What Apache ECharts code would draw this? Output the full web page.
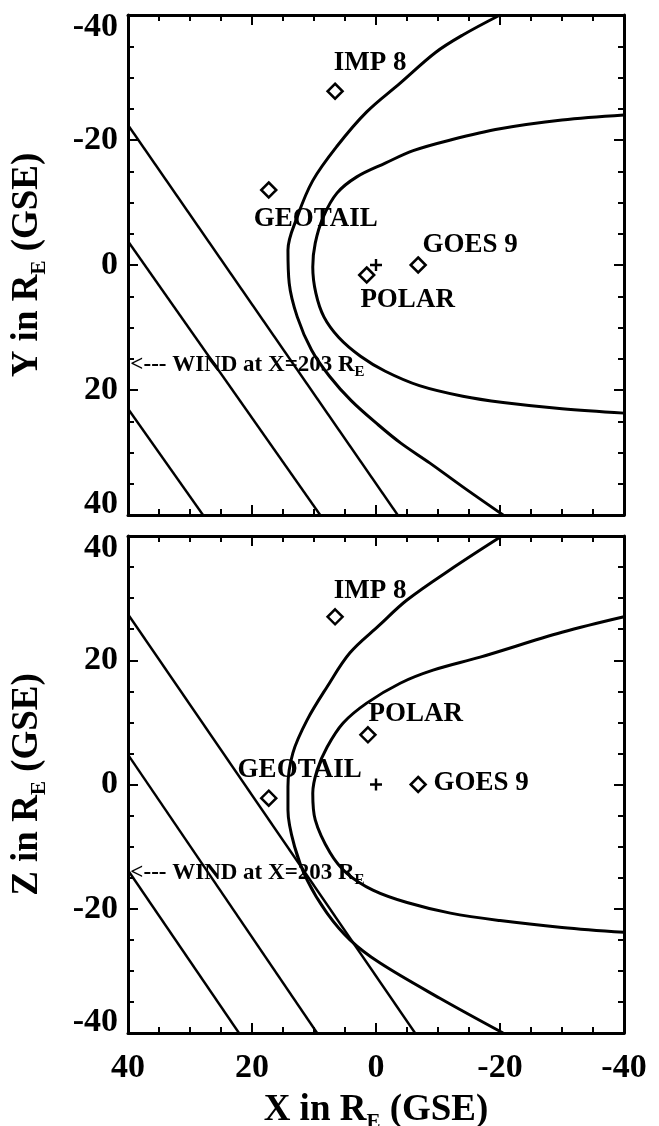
<!DOCTYPE html>
<html><head><meta charset="utf-8">
<script src="https://cdn.jsdelivr.net/npm/echarts@6/dist/echarts.min.js"></script>
<style>html,body{margin:0;padding:0;background:#fff}#c{width:659px;height:1126px}</style>
</head><body><div id="c"></div>
<script>
// ---------- data ----------
const tickValues = [-40, -20, 0, 20, 40];

// top panel (X, Y)
const topBowShock = [[-20.0,-40],[-14.0,-36.8],[-9.6,-34.0],[-3.9,-29.1],[1.5,-24.5],[6.3,-19.0],[10.2,-13.5],[12.7,-7.7],[14.2,-2.4],[14.0,2.9],[12.7,8.3],[10.4,13.6],[7.5,17.8],[4.0,21.7],[-0.4,25.6],[-4.0,28.5],[-8.7,31.7],[-14.0,35.5],[-20.5,40]];
const topMagnetopause = [[-40,-24.0],[-30,-23.2],[-20,-21.8],[-12,-20.0],[-6,-18.3],[-1.5,-16.3],[3.1,-14.1],[6.3,-11.5],[8.5,-7.7],[9.8,-3.5],[10.2,0.3],[9.7,4.5],[8.4,8.3],[6.0,11.6],[2.5,14.6],[-1.5,17.0],[-7.0,19.3],[-14.0,21.0],[-20.5,22.0],[-30,23.0],[-40,23.7]];
const topFieldLines = [[[40,-22.4],[-3.5,40]], [[40,-3.8],[9.0,40]], [[40,23.0],[27.9,40]]];
const topSpacecraft = [[6.6,-27.8],[17.3,-12.0],[1.5,1.6],[-6.8,0.0]];
const topLabelNames = ['IMP 8','GEOTAIL','GOES 9','POLAR'];
const topLabelAnchors = [[6.9,-32.3],[19.8,-7.4],[-7.4,-3.2],[2.6,5.6]];
const topWindAnchor = [39.7,16.0];

// bottom panel (X, Z)
const botBowShock = [[-20.3,40],[-12.6,35.0],[-5.0,29.7],[-0.5,25.6],[4.2,21.2],[7.9,15.7],[11.1,10.4],[13.4,5.1],[14.2,-0.4],[14.2,-4.1],[13.1,-10.1],[11.1,-15.4],[7.9,-20.7],[4.2,-25.0],[-0.6,-28.7],[-10.3,-34.4],[-20.5,-40]];
const botMagnetopause = [[-40,27.0],[-30,24.5],[-16.8,20.5],[-9.2,18.4],[-3.9,16.3],[1.5,13.1],[5.3,9.9],[7.9,6.0],[9.5,2.3],[10.2,-1.4],[9.8,-5.7],[7.4,-11.0],[4.7,-14.3],[0.5,-17.0],[-5.0,-19.0],[-12.0,-20.7],[-20.0,-21.9],[-30.0,-23.0],[-40,-23.8]];
const botFieldLines = [[[40,27.4],[-6.3,-40]], [[40,4.8],[9.5,-40]], [[40,-13.8],[22.1,-40]]];
const botSpacecraft = [[6.6,27.0],[1.3,8.0],[17.3,-2.2],[-6.8,0.0]];
const botLabelNames = ['IMP 8','POLAR','GEOTAIL','GOES 9'];
const botLabelAnchors = [[6.9,31.1],[1.3,11.3],[22.4,2.3],[-9.2,0.2]];
const botWindAnchor = [39.7,-14.3];

const earth = [[0,0]];
const windText = '<--- WIND at X=203 R';

// ---------- styling ----------
const FONT = 'Liberation Serif';
const BLACK = '#000';
const tickFont = {fontFamily: FONT, fontWeight: 'bold', fontSize: 34, color: BLACK};

function axisBase(gridIndex, position, inverse) {
  return {
    type: 'value', gridIndex, position, min: -40, max: 40, interval: 20, inverse,
    axisLine: {show: true, onZero: false, lineStyle: {color: BLACK, width: 3}},
    axisTick: {show: true, inside: true, length: 10, lineStyle: {color: BLACK, width: 2}},
    minorTick: {show: true, splitNumber: 4, length: 6, lineStyle: {color: BLACK, width: 2}},
    splitLine: {show: false}, minorSplitLine: {show: false},
    axisLabel: {show: false},
    axisPointer: {show: false}
  };
}
function yLabels(topVal, botVal) {
  return {
    show: true, margin: 10,
    formatter: v => (v === topVal ? '{t|' : v === botVal ? '{b|' : '{n|') + v + '}',
    rich: {
      t: Object.assign({padding: [24,0,0,0]}, tickFont),
      b: Object.assign({padding: [0,0,22,0]}, tickFont),
      n: Object.assign({}, tickFont)
    }
  };
}
const titleRich = {
  m: {fontFamily: FONT, fontWeight: 'bold', fontSize: 37, color: BLACK},
  s: {fontFamily: FONT, fontWeight: 'bold', fontSize: 21, color: BLACK, padding: [24,0,0,0]}
};

const xAxes = [
  axisBase(0, 'bottom', true),
  axisBase(0, 'top', true),
  Object.assign(axisBase(1, 'bottom', true), {
    axisLabel: Object.assign({show: true, margin: 18, formatter: v => String(v)}, tickFont),
    name: '{m|X in R}{s|E}{m| (GSE)}', nameLocation: 'middle', nameGap: 55,
    nameTextStyle: {rich: titleRich}
  }),
  axisBase(1, 'top', true)
];
const yAxes = [
  Object.assign(axisBase(0, 'left', true), {
    axisLabel: yLabels(-40, 40),
    name: '{m|Y in R}{s|E}{m| (GSE)}', nameLocation: 'middle', nameGap: 78,
    nameTextStyle: {rich: titleRich}
  }),
  axisBase(0, 'right', true),
  Object.assign(axisBase(1, 'left', false), {
    axisLabel: yLabels(40, -40),
    name: '{m|Z in R}{s|E}{m| (GSE)}', nameLocation: 'middle', nameGap: 78,
    nameTextStyle: {rich: titleRich}
  }),
  axisBase(1, 'right', false)
];

function curve(data, xi, yi, w) {
  return {type: 'line', xAxisIndex: xi, yAxisIndex: yi, data, showSymbol: false, smooth: 0.35,
    lineStyle: {color: BLACK, width: w}, silent: true, z: 2};
}
function straight(data, xi, yi) {
  return {type: 'line', xAxisIndex: xi, yAxisIndex: yi, data, showSymbol: false,
    lineStyle: {color: BLACK, width: 2.4}, silent: true, z: 2};
}
function diamonds(data, xi, yi) {
  return {type: 'scatter', xAxisIndex: xi, yAxisIndex: yi, data, symbol: 'diamond', symbolSize: 15,
    itemStyle: {color: '#fff', borderColor: BLACK, borderWidth: 2.5, opacity: 1}, silent: true, z: 5};
}
function plus(data, xi, yi) {
  return {type: 'scatter', xAxisIndex: xi, yAxisIndex: yi, data,
    symbol: 'path://M4,0 H6 V4 H10 V6 H6 V10 H4 V6 H0 V4 H4 Z', symbolSize: 12,
    itemStyle: {color: BLACK, opacity: 1}, silent: true, z: 5};
}
function labels(names, anchors, xi, yi) {
  return {type: 'scatter', xAxisIndex: xi, yAxisIndex: yi, symbolSize: 1,
    itemStyle: {color: 'rgba(255,255,255,0)', opacity: 1}, silent: true, z: 6,
    data: names.map((n, i) => ({name: n, value: anchors[i]})),
    label: {show: true, position: 'right', distance: 0, formatter: p => p.name, opacity: 1,
      fontFamily: FONT, fontWeight: 'bold', fontSize: 27, color: BLACK}
  };
}
function windLabel(anchor, xi, yi) {
  return {type: 'scatter', xAxisIndex: xi, yAxisIndex: yi, symbolSize: 1,
    itemStyle: {color: 'rgba(255,255,255,0)', opacity: 1}, silent: true, z: 6,
    data: [{name: windText, value: anchor}],
    label: {show: true, position: 'right', distance: 0, opacity: 1,
      formatter: p => '{w|' + p.name + '}{s|E}',
      rich: {
        w: {fontFamily: FONT, fontWeight: 'bold', fontSize: 23, color: BLACK},
        s: {fontFamily: FONT, fontWeight: 'bold', fontSize: 15, color: BLACK, padding: [14,0,0,0]}
      }}
  };
}

const series = [
  curve(topBowShock, 0, 0, 3), curve(topMagnetopause, 0, 0, 3),
  ...topFieldLines.map(l => straight(l, 0, 0)),
  diamonds(topSpacecraft, 0, 0), plus(earth, 0, 0),
  labels(topLabelNames, topLabelAnchors, 0, 0), windLabel(topWindAnchor, 0, 0),
  curve(botBowShock, 2, 2, 3), curve(botMagnetopause, 2, 2, 3),
  ...botFieldLines.map(l => straight(l, 2, 2)),
  diamonds(botSpacecraft, 2, 2), plus(earth, 2, 2),
  labels(botLabelNames, botLabelAnchors, 2, 2), windLabel(botWindAnchor, 2, 2)
];

const chart = echarts.init(document.getElementById('c'));
chart.setOption({
  animation: false,
  backgroundColor: '#fff',
  grid: [
    {left: 128, top: 15, width: 496, height: 500, containLabel: false, outerBoundsMode: 'none'},
    {left: 128, top: 536, width: 496, height: 497, containLabel: false, outerBoundsMode: 'none'}
  ],
  xAxis: xAxes,
  yAxis: yAxes,
  series
});
</script></body></html>
